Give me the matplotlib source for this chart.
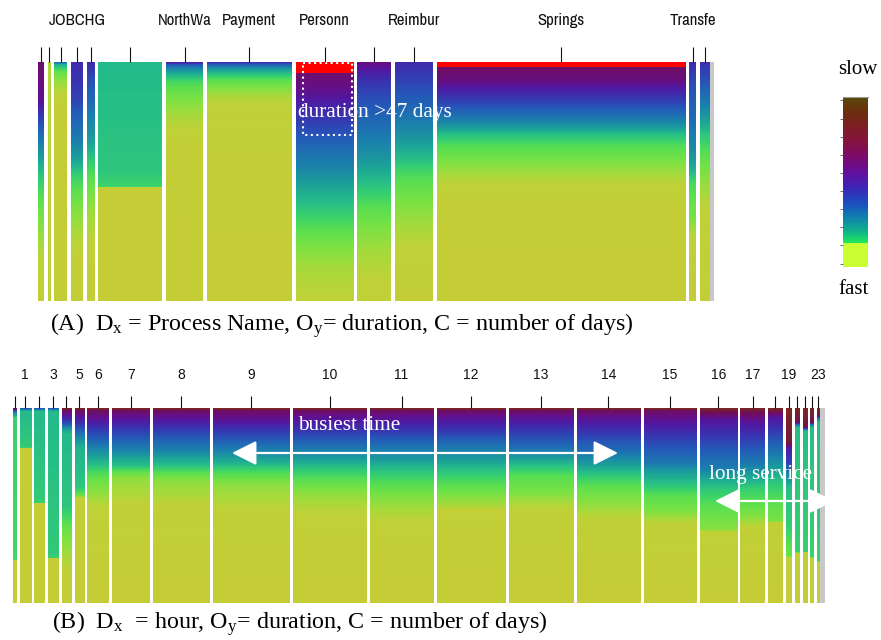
import numpy as np
import matplotlib
matplotlib.use('Agg')
import matplotlib.pyplot as plt
from matplotlib.colors import LinearSegmentedColormap
from matplotlib.patches import Rectangle

plt.rcParams['font.family'] = ['Liberation Serif', 'DejaVu Serif']
plt.rcParams['mathtext.default'] = 'regular'

# ---------------- data: panel A (process name) ----------------
proc_labels = ['', '', '', 'JOBCHG', '', '', 'NorthWa', 'Payment', 'Personn', '',
               'Reimbur', 'Springs', 'Transfe', '']
proc_counts = [6, 3, 13, 12, 8, 64, 37, 85, 58, 34, 38, 249, 7, 10]
proc_over47 = [0, 0, 0, 0, 0, 0, 0, 0, 4.6, 0, 0, 2.3, 0, 0]   # % of items > 47 days
# (depth % from top, duration level 0=fast..1=slow)
proc_profiles = [
    [(0, .92), (16, .88), (20, .8), (30, .65), (40, .5), (47, .4), (65, .25), (82, .1), (100, .03)],
    [(0, .12), (100, .05)],
    [(0, .65), (1, .45), (4, .3), (7.5, .2), (13, .08), (20, .02), (100, 0)],
    [(0, .8), (15, .75), (20, .7), (33, .6), (40, .5), (47, .38), (55, .3), (65, .2), (75, .1), (82, .03), (100, 0)],
    [(0, .8), (7, .72), (20, .62), (33, .5), (40, .4), (50, .3), (60, .2), (72, .1), (80, .03), (100, 0)],
    [(0, .43), (45, .4), (52.4, .36), (52.6, 0), (100, 0)],
    [(0, .85), (1, .7), (3, .55), (5, .45), (8, .35), (13, .28), (20, .18), (27, .08), (35, .02), (100, 0)],
    [(0, .8), (1, .68), (3, .5), (5, .4), (8, .3), (12, .2), (16, .1), (22, .03), (100, 0)],
    [(0, .95), (4.6, .92), (12, .88), (20, .8), (33, .68), (44, .58), (52.5, .48), (61, .4), (72, .3), (86, .15), (100, .06)],
    [(0, .9), (3, .85), (8, .78), (15, .72), (30, .62), (41, .52), (50, .42), (63, .3), (80, .15), (90, .08), (100, .04)],
    [(0, .8), (7, .75), (20, .65), (30, .55), (38, .45), (46, .35), (58, .25), (72, .12), (80, .05), (100, .02)],
    [(0, .95), (2.5, .93), (7.5, .9), (12, .82), (18, .72), (23, .62), (27, .52), (30, .42), (35, .33), (40, .27), (47, .15), (52, .06), (60, .02), (100, 0)],
    [(0, .8), (9, .72), (25, .64), (37, .55), (45, .45), (50, .35), (65, .25), (72, .12), (80, .04), (100, 0)],
    [(0, .78), (7, .72), (16, .62), (24, .5), (30, .4), (40, .3), (55, .15), (62, .06), (100, .02)],
]

# ---------------- data: panel B (hour) ----------------
hour_labels = ['', '1', '', '3', '', '5', '6', '7', '8', '9', '10', '11', '12', '13',
               '14', '15', '16', '17', '', '19', '', '', '', '23']
hour_counts = [3, 11, 10, 10, 9, 9, 21, 37, 56, 76, 73, 63, 68, 64, 63, 52, 37, 24, 14, 5, 4, 4, 3, 3]
hour_over47 = [0] * 24
hour_profiles = [
    [(0, 1.0), (1, .8), (2, .6), (4, .45), (5, .37), (77.9, .35), (78, 0), (100, 0)],
    [(0, .72), (1.5, .43), (19, .39), (20.5, .37), (20.6, 0), (100, 0)],
    [(0, .72), (1.5, .43), (45, .39), (48.6, .37), (48.7, 0), (100, 0)],
    [(0, .72), (1.5, .43), (74, .39), (76.8, .37), (76.9, 0), (100, 0)],
    [(0, 1.0), (1.5, .92), (5, .82), (8, .7), (11, .5), (13, .43), (50, .4), (57, .34), (62, .28), (71, .2), (80, .1), (86, .03), (100, 0)],
    [(0, 1.0), (1.5, .93), (5, .85), (9, .75), (16, .55), (20, .45), (40, .4), (44, .32), (45.5, .22), (46, .03), (100, 0)],
    [(0, 1.0), (1.5, .93), (5, .88), (10, .78), (17, .66), (22, .55), (27, .45), (32, .36), (37, .28), (45, .18), (52, .05), (100, 0)],
    [(0, 1.0), (1.5, .93), (5, .87), (10, .78), (15, .7), (21, .6), (26, .48), (30, .4), (33, .3), (36, .2), (45, .12), (50, .04), (100, 0)],
    [(0, 1.0), (1.5, .93), (5, .87), (10, .78), (16, .68), (22, .58), (26, .48), (30, .4), (34, .3), (38, .2), (46, .12), (51, .04), (100, 0)],
    [(0, 1.0), (1.5, .93), (6, .87), (11, .78), (17, .68), (23, .56), (27, .47), (30, .4), (35, .3), (40, .2), (48, .12), (53, .04), (100, 0)],
    [(0, 1.0), (1.5, .93), (5, .87), (11, .78), (17, .68), (24, .55), (28, .46), (31, .4), (38, .3), (44, .2), (52, .1), (58, .03), (100, 0)],
    [(0, 1.0), (1.5, .93), (5, .87), (12, .76), (18, .66), (25, .54), (30, .44), (34, .38), (41, .3), (48, .2), (56, .1), (62, .03), (100, 0)],
    [(0, 1.0), (1.5, .93), (5, .87), (12, .76), (17.5, .66), (24, .55), (31, .42), (41, .3), (47, .2), (51, .12), (52, .03), (100, 0)],
    [(0, 1.0), (1.5, .93), (5, .87), (12, .76), (20, .65), (25, .52), (29, .42), (35, .32), (43, .25), (48, .15), (53, .04), (100, 0)],
    [(0, 1.0), (1.5, .93), (6, .86), (14, .75), (22, .64), (28, .52), (34, .4), (41, .3), (48, .22), (53, .14), (58, .04), (100, 0)],
    [(0, 1.0), (1.5, .93), (7, .86), (15, .76), (28, .62), (33, .5), (38, .42), (45, .32), (53, .24), (57, .14), (60, .04), (100, 0)],
    [(0, 1.0), (2, .95), (6, .86), (17, .74), (31, .6), (36, .48), (41, .4), (50, .32), (55, .28), (62, .22), (64, .05), (100, 0)],
    [(0, 1.0), (2, .95), (7, .86), (19, .72), (29, .6), (35, .48), (41, .38), (50, .3), (56, .22), (60, .1), (62, .04), (100, 0)],
    [(0, 1.0), (2, .95), (5, .85), (15, .72), (24, .6), (31, .5), (38, .4), (50, .3), (58, .25), (59, .04), (100, 0)],
    [(0, 1.0), (18, .97), (21, .82), (28, .75), (33, .6), (41, .42), (60, .38), (70, .32), (76, .28), (77, .04), (100, 0)],
    [(0, 1.0), (7.5, .95), (8, .7), (10, .42), (74, .37), (74.5, .02), (100, 0)],
    [(0, 1.0), (10, .95), (11, .6), (12, .42), (73.7, .37), (74, .02), (100, 0)],
    [(0, 1.0), (7.5, .95), (8, .7), (10, .42), (76.7, .37), (77, .02), (100, 0)],
    [(0, 1.0), (4, .95), (5, .7), (7, .42), (78.7, .37), (79, .02), (100, 0)],
]

# ---------------- colours ----------------
bar_stops = [(0.00, '#c5cd36'), (0.08, '#bdd338'), (0.15, '#a6da3c'), (0.25, '#78e244'),
             (0.32, '#58de52'), (0.37, '#38d06e'), (0.42, '#26bd88'), (0.50, '#1b9f9a'),
             (0.60, '#1b7eae'), (0.70, '#2558b8'), (0.78, '#3a32b0'), (0.85, '#5218a0'),
             (0.90, '#680e80'), (0.95, '#700e55'), (1.00, '#7a2a20')]
bar_cmap = LinearSegmentedColormap.from_list('dur', bar_stops)
legend_stops = [(0.0, '#ccff33'), (0.14, '#ccff33'), (0.141, '#22ea58'), (0.20, '#12b888'),
                (0.28, '#1088aa'), (0.37, '#1a50c0'), (0.46, '#3a28b8'), (0.55, '#6010a0'),
                (0.64, '#7a0a70'), (0.74, '#861440'), (0.84, '#7c2020'), (0.92, '#6a3010'),
                (1.0, '#5a4808')]
legend_cmap = LinearSegmentedColormap.from_list('leg', legend_stops)
GRAY = '#c8c8c8'
GAP = 3.7

W, H = 881, 640
fig = plt.figure(figsize=(W / 100, H / 100), dpi=100)


def fr(x0, y0, x1, y1):
    return [x0 / W, 1 - y1 / H, (x1 - x0) / W, (y1 - y0) / H]


def mosaic(ax, counts, profiles, over, labels, gray_w, tick_len, pad, lab_font, lab_size):
    depth = np.linspace(0, 100, 600)
    x = 0.0
    centers = []
    lefts = []
    for c, prof, ov in zip(counts, profiles, over):
        d = [p[0] for p in prof]
        v = [p[1] for p in prof]
        col = bar_cmap(np.interp(depth, d, v))[:, None, :]
        ax.imshow(col, extent=[x, x + c, 100, 0], aspect='auto', interpolation='nearest')
        if ov > 0:
            ax.add_patch(Rectangle((x, 0), c, ov, color='#ff0000', lw=0))
        centers.append(x + c / 2)
        lefts.append(x)
        x += c + GAP
    end = x - GAP
    ax.add_patch(Rectangle((end, 0), gray_w, 100, color=GRAY, lw=0))
    ax.set_xlim(0, end + gray_w)
    ax.set_ylim(100, 0)
    for s in ax.spines.values():
        s.set_visible(False)
    ax.set_yticks([])
    ax.xaxis.tick_top()
    ax.set_xticks(centers)
    ax.set_xticklabels(labels, family=lab_font, fontsize=lab_size, color='#111111')
    ax.tick_params(axis='x', direction='out', length=tick_len, width=0.8, color='#111111', pad=pad)
    return lefts


# panel A
axA = fig.add_axes(fr(38, 62, 714, 301))
leftsA = mosaic(axA, proc_counts, proc_profiles, proc_over47, proc_labels, 4.0, 10.8, 14,
                ['Archivo Narrow', 'DejaVu Sans'], 12)
ip = proc_labels.index('Personn')
pw = proc_counts[ip]
axA.add_patch(Rectangle((leftsA[ip] + 0.12 * pw, 0.5), 0.86 * pw, 30.2, fill=False,
                        edgecolor='white', lw=1.5, linestyle=':'))
fig.text(298 / W, 1 - 112 / H, 'duration >47 days', color='white', fontsize=15.3,
         ha='left', va='center')

# panel B
axB = fig.add_axes(fr(13, 408, 825, 603))
mosaic(axB, hour_counts, hour_profiles, hour_over47, hour_labels, 5.0, 8.6, 10,
       ['Liberation Sans', 'DejaVu Sans'], 10)
fig.text(298 / W, 1 - 425 / H, 'busiest time', color='white', fontsize=15.3, ha='left', va='center')
fig.text(709 / W, 1 - 475 / H, 'long service', color='white', fontsize=15.3, ha='left', va='center')
arrow = dict(arrowstyle='<|-|>,head_length=1.5,head_width=0.75', color='white', lw=1.6,
             mutation_scale=10, shrinkA=0, shrinkB=0)
axB.annotate('', xy=(232, H - 453), xytext=(618, H - 453), xycoords='figure pixels',
             textcoords='figure pixels', arrowprops=arrow)
axB.annotate('', xy=(715, H - 501), xytext=(834, H - 501), xycoords='figure pixels',
             textcoords='figure pixels', arrowprops=arrow)

# captions
fig.text(50 / W, 1 - 326 / H,
         '(A)  $D_x$ = Process Name, $O_y$= duration, C = number of days)',
         fontsize=17.3, ha='left', va='center')
fig.text(52 / W, 1 - 624 / H,
         '(B)  $D_x$  = hour, $O_y$= duration, C = number of days)',
         fontsize=17.3, ha='left', va='center')

# legend colour bar
axL = fig.add_axes(fr(843, 97, 868, 267))
axL.imshow(np.linspace(0, 1, 256)[:, None], cmap=legend_cmap, origin='lower',
           aspect='auto', extent=[0, 1, 0, 1])
axL.set_xlim(0, 1)
axL.set_ylim(0, 1)
axL.set_xticks([])
axL.set_yticks(np.linspace(0.02, 0.98, 10))
axL.set_yticklabels([])
axL.tick_params(axis='y', length=2, width=0.6, color='#555555')
for k, s in axL.spines.items():
    s.set_visible(k == 'top')
axL.spines['top'].set_color('#999999')
fig.text(858 / W, 1 - 70 / H, 'slow', fontsize=15, ha='center', va='center')
fig.text(854 / W, 1 - 290 / H, 'fast', fontsize=15, ha='center', va='center')

fig.savefig('out.png', dpi=100)
